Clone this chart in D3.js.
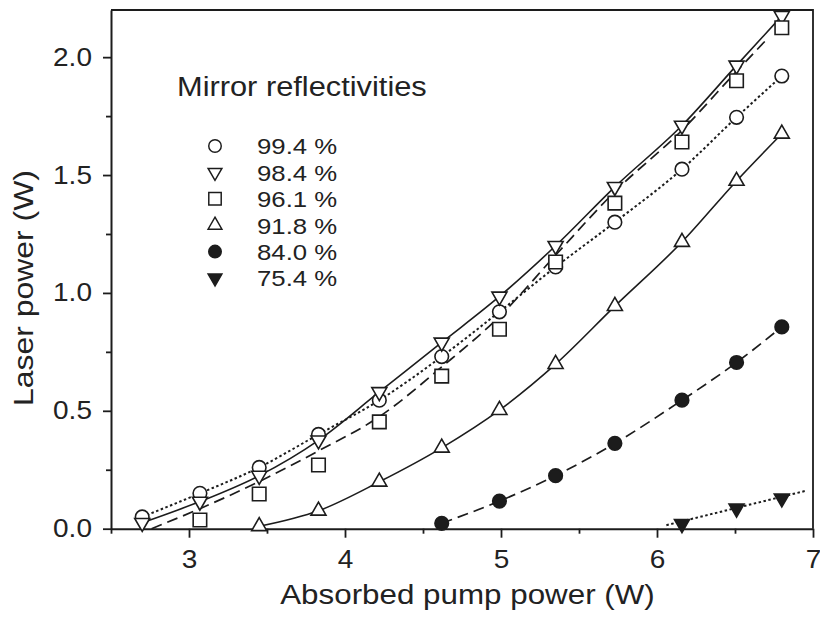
<!DOCTYPE html>
<html>
<head>
<meta charset="utf-8">
<script src="https://cdn.jsdelivr.net/npm/d3@7"></script>
<style>
  html, body { margin: 0; padding: 0; background: #fff; }
  svg { display: block; }
  text { font-family: "Liberation Sans", Arial, Helvetica, sans-serif; fill: #222; }
</style>
</head>
<body>
<svg id="chart" width="820" height="623"></svg>
<script>
// ---------- data ----------
const seriesLabels = ["99.4 %", "98.4 %", "96.1 %", "91.8 %", "84.0 %", "75.4 %"];
const legendTitle = "Mirror reflectivities";
const xTitle = "Absorbed pump power (W)";
const yTitle = "Laser power (W)";

const xTickValues = [3, 4, 5, 6, 7];
const xMinorTicks = [2.5, 3.5, 4.5, 5.5, 6.5];
const yTickValues = [0.0, 0.5, 1.0, 1.5, 2.0];
const yMinorTicks = [0.25, 0.75, 1.25, 1.75];

// pump power for each measurement
const pump = [2.70, 3.07, 3.45, 3.83, 4.22, 4.62, 4.99, 5.35, 5.73, 6.16, 6.51, 6.80];

const r994 = [0.05, 0.15, 0.26, 0.40, 0.545, 0.73, 0.92, 1.11, 1.30, 1.525, 1.745, 1.92];
const r984 = [0.025, 0.115, 0.225, 0.375, 0.58, 0.79, 0.985, 1.20, 1.45, 1.71, 1.965, 2.175];
const r961 = [null, 0.037, 0.147, 0.27, 0.453, 0.647, 0.846, 1.131, 1.381, 1.64, 1.90, 2.125];
const r918 = [null, null, 0.01, 0.076, 0.199, 0.343, 0.503, 0.698, 0.944, 1.216, 1.475, 1.675];
const r840 = [null, null, null, null, null, 0.023, 0.117, 0.225, 0.362, 0.545, 0.705, 0.856];
const r754 = [null, null, null, null, null, null, null, null, null, 0.02, 0.086, 0.129];

// fitted lines where they do not follow the markers
const fit961X = [2.76, 3.07, 3.45, 3.83, 4.22, 4.62, 4.99, 5.35, 5.73, 6.16, 6.51, 6.71];
const fit961Y = [0.0, 0.085, 0.20, 0.33, 0.475, 0.686, 0.90, 1.16, 1.43, 1.69, 1.94, 2.08];
const fit754X = [6.06, 6.95];
const fit754Y = [0.015, 0.16];

// ---------- layout ----------
const svg = d3.select("#chart");
const L = 111, R = 813, T = 10, B = 528.7;
const x = d3.scaleLinear().domain([2.5, 7]).range([L, R]);
const y = d3.scaleLinear().domain([0, 2.2]).range([B, T]);
const ink = "#1c1c1c";
const SX = 1.12; // horizontal stretch of the glyphs in the reference

function pairs(xs, ys) {
  return xs.map((v, i) => ({x: v, y: ys[i]})).filter(d => d.y !== null && d.y !== undefined);
}

const series = [
  {label: seriesLabels[0], pts: pairs(pump, r994), line: pairs(pump, r994), dash: "2.5,2.5", lw: 2, sym: "circle", filled: false},
  {label: seriesLabels[1], pts: pairs(pump, r984), line: pairs(pump, r984), dash: null, lw: 1.6, sym: "down", filled: false},
  {label: seriesLabels[2], pts: pairs(pump, r961), line: pairs(fit961X, fit961Y), dash: "11,6", lw: 1.7, sym: "square", filled: false},
  {label: seriesLabels[3], pts: pairs(pump, r918), line: pairs(pump, r918), dash: null, lw: 1.6, sym: "up", filled: false},
  {label: seriesLabels[4], pts: pairs(pump, r840), line: pairs(pump, r840), dash: "11,6", lw: 1.7, sym: "circle", filled: true},
  {label: seriesLabels[5], pts: pairs(pump, r754), line: pairs(fit754X, fit754Y), dash: "2.5,2.5", lw: 2, sym: "down", filled: true}
];

function symPath(kind) {
  if (kind === "circle") return d3.symbol().type(d3.symbolCircle).size(Math.PI * 6.8 * 6.8)();
  if (kind === "square") return d3.symbol().type(d3.symbolSquare).size(13.5 * 13.5)();
  const s = 15; // triangle side
  return d3.symbol().type(d3.symbolTriangle).size(s * s * Math.sqrt(3) / 4)();
}
function symTransform(kind, px, py) {
  return kind === "down" ? `translate(${px},${py}) rotate(180)` : `translate(${px},${py})`;
}

// ---------- axes ----------
const gx = svg.append("g").attr("transform", `translate(0,${B})`);
gx.call(d3.axisBottom(x).tickValues(xTickValues).tickSize(9).tickSizeOuter(0).tickPadding(13).tickFormat(d3.format("d")));
const gxm = svg.append("g").attr("transform", `translate(0,${B})`);
gxm.call(d3.axisBottom(x).tickValues(xMinorTicks).tickSize(5).tickFormat(""));
gxm.select(".domain").remove();

const gy = svg.append("g").attr("transform", `translate(${L},0)`);
gy.call(d3.axisLeft(y).tickValues(yTickValues).tickSize(8).tickSizeOuter(0).tickPadding(9).tickFormat(d3.format(".1f")));
const gym = svg.append("g").attr("transform", `translate(${L},0)`);
gym.call(d3.axisLeft(y).tickValues(yMinorTicks).tickSize(5).tickFormat(""));
gym.select(".domain").remove();

svg.selectAll(".tick line").attr("stroke", ink).attr("stroke-width", 1.8);
svg.selectAll(".domain").attr("stroke", ink).attr("stroke-width", 2);
svg.selectAll(".tick text")
  .attr("font-size", 25)
  .attr("font-family", "'Liberation Sans', Arial, sans-serif")
  .attr("fill", "#222")
  .attr("transform", `scale(${SX},1)`);
gy.selectAll(".tick text").attr("x", -17);

// frame (top and right)
svg.append("path")
  .attr("d", `M${L},${T}H${R}V${B}`)
  .attr("fill", "none").attr("stroke", ink).attr("stroke-width", 1.8);

// ---------- lines ----------
const lineGen = d3.line().x(d => x(d.x)).y(d => y(d.y)).curve(d3.curveMonotoneX);
const gl = svg.append("g");
series.forEach(s => {
  gl.append("path")
    .attr("d", lineGen(s.line))
    .attr("fill", "none")
    .attr("stroke", ink)
    .attr("stroke-width", s.lw)
    .attr("stroke-dasharray", s.dash);
});

// ---------- markers ----------
series.forEach(s => {
  svg.append("g").selectAll("path").data(s.pts).join("path")
    .attr("d", symPath(s.sym))
    .attr("transform", d => symTransform(s.sym, x(d.x), y(d.y)))
    .attr("fill", s.filled ? ink : "#fff")
    .attr("stroke", ink)
    .attr("stroke-width", 1.6);
});

// ---------- legend ----------
svg.append("text")
  .attr("transform", `translate(177,95.5) scale(${SX},1)`)
  .attr("font-size", 27.5)
  .text(legendTitle);

const lg = svg.append("g");
series.forEach((s, i) => {
  const cy = 146 + i * 26.4;
  lg.append("path")
    .attr("d", symPath(s.sym))
    .attr("transform", symTransform(s.sym, 215, cy) + " scale(0.92)")
    .attr("fill", s.filled ? ink : "#fff")
    .attr("stroke", ink)
    .attr("stroke-width", 1.6);
  lg.append("text")
    .attr("transform", `translate(257,${cy + 8.3}) scale(${SX},1)`)
    .attr("font-size", 23)
    .text(s.label);
});

// ---------- axis titles ----------
svg.append("text")
  .attr("transform", `translate(467.5,604) scale(${SX},1)`)
  .attr("text-anchor", "middle")
  .attr("font-size", 28)
  .text(xTitle);

svg.append("text")
  .attr("transform", `translate(33,288) rotate(-90) scale(${SX},1)`)
  .attr("text-anchor", "middle")
  .attr("font-size", 28.5)
  .text(yTitle);
</script>
</body>
</html>
